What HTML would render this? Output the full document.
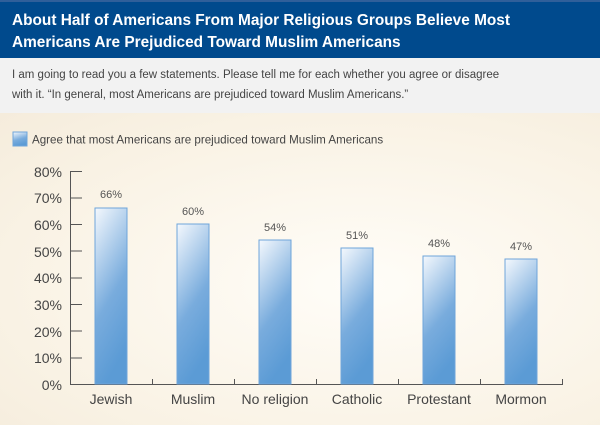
<!DOCTYPE html><html><head><style>
body{margin:0;width:600px;height:425px;overflow:hidden;font-family:"Liberation Sans",Arial,sans-serif;background:#f8f1e4}
.h{position:absolute;left:0;top:0;width:600px;height:58px;background:#004a8d;border-top:2px solid #2f5f9a;box-sizing:border-box}
.h div{position:absolute;left:12px;top:8px;color:#fff;font-weight:bold;font-size:15.4px;line-height:22px}
.g{position:absolute;left:0;top:58px;width:600px;height:55px;background:#f2f2f2;color:#444;font-size:11.5px;line-height:20px}
.g div{position:absolute;left:12px;top:7px}
.c{position:absolute;left:0;top:113px;width:600px;height:312px;background:radial-gradient(ellipse at 60% 55%,#fffdf8 0%,#f9f2e4 70%,#f5ecdc 100%)}
</style></head><body>
<div class="h"><div>About Half of Americans From Major Religious Groups Believe Most<br>Americans Are Prejudiced Toward Muslim Americans</div></div>
<div class="g"><div>I am going to read you a few statements. Please tell me for each whether you agree or disagree<br>with it. “In general, most Americans are prejudiced toward Muslim Americans.”</div></div>
<div class="c"></div>
<svg width="600" height="425" style="position:absolute;left:0;top:0" font-family="Liberation Sans,Arial,sans-serif">
<defs><linearGradient id="b" x1="0" y1="0" x2="0.3" y2="1"><stop offset="0" stop-color="#f4f8fd"/><stop offset="0.6" stop-color="#79acdd"/><stop offset="1" stop-color="#5b9bd5"/></linearGradient></defs>
<rect x="13" y="132" width="14" height="14" fill="url(#b)" stroke="#6fa5da"/>
<text x="32" y="143.5" font-size="11.6" fill="#444">Agree that most Americans are prejudiced toward Muslim Americans</text>
<g stroke="#555" stroke-width="1" fill="none">
<line x1="70.5" y1="171" x2="70.5" y2="385"/><line x1="70" y1="384.5" x2="562" y2="384.5"/>
<path d="M70 171.5h12M70 198h12M70 224.5h12M70 251h12M70 278h12M70 304.5h12M70 331h12M70 358h12"/>
<path d="M152.5 379v6M234.5 379v6M316.5 379v6M398.5 379v6M480.5 379v6M562.5 379v6"/>
</g>
<g font-size="14" fill="#444" text-anchor="end">
<text x="62" y="177">80%</text><text x="62" y="203">70%</text><text x="62" y="230">60%</text><text x="62" y="257">50%</text><text x="62" y="283">40%</text><text x="62" y="310">30%</text><text x="62" y="337">20%</text><text x="62" y="363">10%</text><text x="62" y="390">0%</text></g>
<g fill="url(#b)" stroke="#6fa5da">
<rect x="95" y="208" width="32" height="176"/><rect x="177" y="224" width="32" height="160"/><rect x="259" y="240" width="32" height="144"/><rect x="341" y="248" width="32" height="136"/><rect x="423" y="256" width="32" height="128"/><rect x="505" y="259" width="32" height="125"/></g>
<g font-size="11" fill="#555" text-anchor="middle">
<text x="111" y="198">66%</text><text x="193" y="215">60%</text><text x="275" y="231">54%</text><text x="357" y="239">51%</text><text x="439" y="247">48%</text><text x="521" y="250">47%</text></g>
<g font-size="14" fill="#444" text-anchor="middle">
<text x="111" y="404">Jewish</text><text x="193" y="404">Muslim</text><text x="275" y="404">No religion</text><text x="357" y="404">Catholic</text><text x="439" y="404">Protestant</text><text x="521" y="404">Mormon</text></g>
</svg>
</body></html>
